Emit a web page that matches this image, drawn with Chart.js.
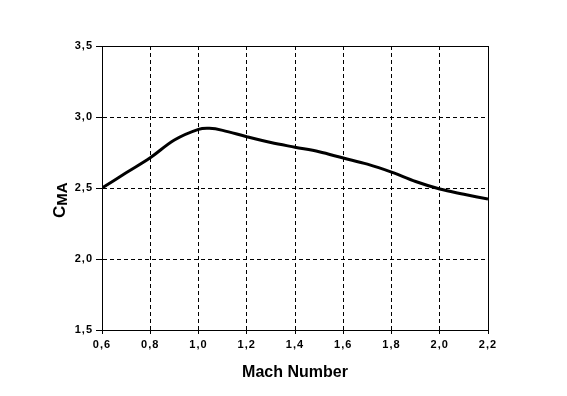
<!DOCTYPE html>
<html>
<head>
<meta charset="utf-8">
<script src="https://cdn.jsdelivr.net/npm/chart.js@4"></script>
<style>
  html, body { margin: 0; padding: 0; background: #fff; }
  #wrap { width: 567px; height: 396px; }
</style>
</head>
<body>
<div id="wrap"><canvas id="cmaChart" width="567" height="396"></canvas></div>
<script>
// values
const machNumbers = [0.6, 0.7, 0.8, 0.9, 1.0, 1.045, 1.1, 1.2, 1.3, 1.4, 1.5, 1.6, 1.7, 1.8, 1.9, 2.0, 2.1, 2.2];
const cmaValues   = [2.50, 2.607, 2.713, 2.838, 2.913, 2.92, 2.906, 2.861, 2.82, 2.787, 2.755, 2.711, 2.668, 2.612, 2.546, 2.493, 2.456, 2.422];
const xTitle = 'Mach Number';
const yTitleMain = 'C';
const yTitleSub = 'MA';

const FONT = '"Liberation Sans", Arial, sans-serif';

// comma as decimal separator
function fmt(v, digits) {
    return v.toFixed(digits).replace('.', ',');
}

// wide bitmap-like tick labels
const spacingPlugin = {
    id: 'spacing',
    beforeDraw: (chart) => { chart.ctx.letterSpacing = '1px'; }
};

// frame + axis titles
const titlesPlugin = {
    id: 'titles',
    afterDraw: (chart) => {
        const ctx = chart.ctx;
        const a = chart.chartArea;
        ctx.save();
        ctx.letterSpacing = '0px';
        // solid frame
        ctx.strokeStyle = '#000';
        ctx.lineWidth = 1;
        ctx.strokeRect(Math.round(a.left) + 0.5, Math.round(a.top) + 0.5,
            Math.round(a.right - a.left), Math.round(a.bottom - a.top));

        // x title
        ctx.fillStyle = '#000';
        ctx.font = 'bold 16px ' + FONT;
        ctx.textAlign = 'center';
        ctx.textBaseline = 'middle';
        ctx.fillText(xTitle, (a.left + a.right) / 2, 373);

        // y title, rotated, with subscript
        ctx.translate(65, 218);
        ctx.rotate(-Math.PI / 2);
        ctx.textAlign = 'left';
        ctx.textBaseline = 'alphabetic';
        ctx.font = 'bold 17px ' + FONT;
        ctx.fillText(yTitleMain, 0, 0);
        const w = ctx.measureText(yTitleMain).width;
        ctx.font = 'bold 15px ' + FONT;
        ctx.fillText(yTitleSub, w, 2);
        ctx.restore();
    }
};

new Chart(document.getElementById('cmaChart'), {
    type: 'line',
    data: {
        datasets: [{
            data: machNumbers.map((m, i) => ({ x: m, y: cmaValues[i] })),
            borderColor: '#000',
            borderWidth: 3,
            pointRadius: 0,
            tension: 0.35,
            fill: false
        }]
    },
    options: {
        responsive: false,
        animation: false,
        layout: {
            padding: { left: 62, right: 79, top: 46, bottom: 0 }
        },
        plugins: {
            legend: { display: false },
            tooltip: { enabled: false }
        },
        scales: {
            x: {
                type: 'linear',
                min: 0.6,
                max: 2.2,
                afterFit: (scale) => { scale.height = 66; },
                afterBuildTicks: (scale) => {
                    scale.ticks = [0.6, 0.8, 1.0, 1.2, 1.4, 1.6, 1.8, 2.0, 2.2].map(v => ({ value: v }));
                },
                grid: {
                    color: '#000',
                    lineWidth: 1,
                    tickLength: 4,
                    tickColor: '#000'
                },
                border: { display: true, color: '#000', dash: [4, 3] },
                ticks: {
                    color: '#000',
                    font: { family: FONT, size: 11, weight: 'bold' },
                    padding: 4,
                    maxRotation: 0,
                    autoSkip: false,
                    callback: (v) => fmt(v, 1)
                }
            },
            y: {
                min: 1.5,
                max: 3.5,
                afterFit: (scale) => { scale.width = 40; },
                ticks: {
                    stepSize: 0.5,
                    color: '#000',
                    font: { family: FONT, size: 11, weight: 'bold' },
                    padding: 3,
                    callback: (v) => fmt(v, 1)
                },
                grid: {
                    color: '#000',
                    lineWidth: 1,
                    tickLength: 6,
                    tickColor: '#000'
                },
                border: { display: true, color: '#000', dash: [4, 3] }
            }
        }
    },
    plugins: [spacingPlugin, titlesPlugin]
});
</script>
</body>
</html>
